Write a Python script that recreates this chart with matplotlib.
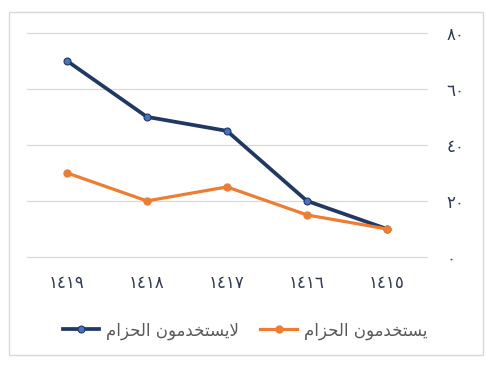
import matplotlib
matplotlib.use("Agg")
from matplotlib import pyplot as plt
from matplotlib.patches import Rectangle

# data (Hijri years, percent)
years = [1415, 1416, 1417, 1418, 1419]
not_using = [10, 20, 45, 50, 70]   # لايستخدمون الحزام
using = [10, 15, 25, 20, 30]       # يستخدمون الحزام
yticks = [0, 20, 40, 60, 80]

# presentation forms in logical order, reversed for left-to-right drawing
label_not = "\uFEFB\uFEF3\uFEB4\uFE98\uFEA8\uFEAA\uFEE3\uFEEE\uFEE5 \uFE8D\uFEDF\uFEA4\uFEB0\uFE8D\uFEE1"[::-1]
label_use = "\uFEF3\uFEB4\uFE98\uFEA8\uFEAA\uFEE3\uFEEE\uFEE5 \uFE8D\uFEDF\uFEA4\uFEB0\uFE8D\uFEE1"[::-1]


def ar_digits(n):
    return str(n).translate(str.maketrans("0123456789", "٠١٢٣٤٥٦٧٨٩"))


plt.rcParams['font.family'] = ['DejaVu Sans']

fig = plt.figure(figsize=(4.95, 3.65), dpi=100)
ax = fig.add_axes([0.0545, 0.296, 0.808, 0.614])

x = list(range(len(years)))
ax.plot(x, not_using, color='#203864', lw=2.7, marker='o', ms=5,
        mfc='#4472C4', mec='#203864', mew=0.8, label=label_not, zorder=3)
ax.plot(x, using, color='#ED7D31', lw=2.3, marker='o', ms=5,
        mfc='#ED7D31', mec='#ED7D31', label=label_use, zorder=3)

ax.set_xlim(len(years) - 0.5, -0.5)
ax.set_ylim(0, 80)
ax.set_xticks(x)
ax.set_xticklabels([ar_digits(y) for y in years], fontsize=12, color='#2F3A55')
ax.set_yticks(yticks)
ax.set_yticklabels([ar_digits(v) for v in yticks], fontsize=12, color='#2F3A55')
ax.yaxis.tick_right()
ax.tick_params(axis='y', length=0, pad=14)
ax.tick_params(axis='x', length=0, pad=12)
ax.grid(axis='y', color='#D9D9D9', lw=0.9)
for gl in ax.get_ygridlines():
    gl.set_clip_on(False)
ax.set_axisbelow(True)
for s in ax.spines.values():
    s.set_visible(False)

ax.legend(loc='upper center', bbox_to_anchor=(0.545, -0.22), ncol=2, frameon=False,
          fontsize=12, labelcolor='#595959', handlelength=2.2, columnspacing=1.3,
          handletextpad=0.4)

fig.patches.append(Rectangle((9 / 495, 1 - 355 / 365), 474 / 495, 343 / 365,
                             transform=fig.transFigure, fill=False,
                             edgecolor='#D9D9D9', lw=1))

fig.savefig('out.png', dpi=100)
